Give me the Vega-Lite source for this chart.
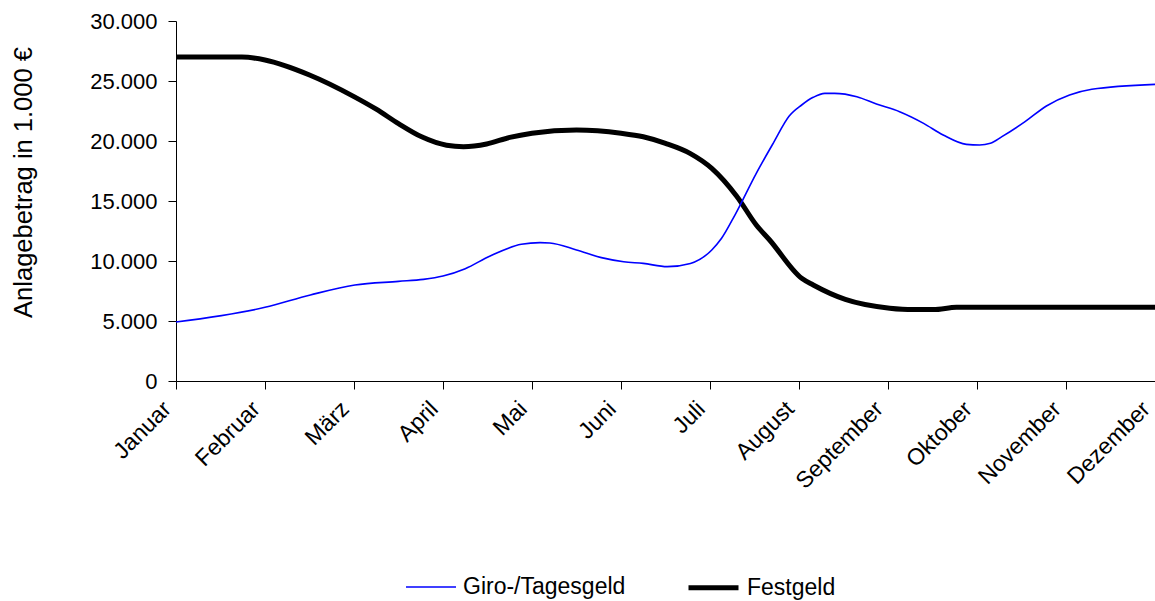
{
  "$schema": "https://vega.github.io/schema/vega-lite/v6.json",
  "width": 979,
  "height": 360,
  "autosize": {"type": "none"},
  "padding": {"left": 176, "top": 21, "right": 0, "bottom": 220},
  "background": "white",
  "config": {
    "view": {"stroke": null},
    "font": "Liberation Sans",
    "locale": {"number": {"decimal": ",", "thousands": ".", "grouping": [3], "currency": ["", " €"]}},
    "axis": {"labelFont": "Liberation Sans", "titleFont": "Liberation Sans", "labelColor": "black", "titleColor": "black", "domainColor": "black", "tickColor": "black", "grid": false}
  },
  "data": {
    "values": [
      {"t": 0, "series": "Festgeld", "v": 27000},
      {"t": 0.5, "series": "Festgeld", "v": 27000},
      {"t": 0.74, "series": "Festgeld", "v": 27000},
      {"t": 1.0, "series": "Festgeld", "v": 26750},
      {"t": 1.5, "series": "Festgeld", "v": 25500},
      {"t": 2.0, "series": "Festgeld", "v": 23700},
      {"t": 2.25, "series": "Festgeld", "v": 22650},
      {"t": 2.5, "series": "Festgeld", "v": 21450},
      {"t": 2.76, "series": "Festgeld", "v": 20350},
      {"t": 3.04, "series": "Festgeld", "v": 19650},
      {"t": 3.23, "series": "Festgeld", "v": 19530},
      {"t": 3.49, "series": "Festgeld", "v": 19750},
      {"t": 3.75, "series": "Festgeld", "v": 20300},
      {"t": 4.0, "series": "Festgeld", "v": 20650},
      {"t": 4.5, "series": "Festgeld", "v": 20920},
      {"t": 5.0, "series": "Festgeld", "v": 20650},
      {"t": 5.25, "series": "Festgeld", "v": 20350},
      {"t": 5.5, "series": "Festgeld", "v": 19800},
      {"t": 5.78, "series": "Festgeld", "v": 18950},
      {"t": 6.02, "series": "Festgeld", "v": 17720},
      {"t": 6.3, "series": "Festgeld", "v": 15400},
      {"t": 6.52, "series": "Festgeld", "v": 13000},
      {"t": 6.67, "series": "Festgeld", "v": 11750},
      {"t": 7.03, "series": "Festgeld", "v": 8560},
      {"t": 7.16, "series": "Festgeld", "v": 8000},
      {"t": 7.52, "series": "Festgeld", "v": 6800},
      {"t": 8.02, "series": "Festgeld", "v": 6070},
      {"t": 8.28, "series": "Festgeld", "v": 5950},
      {"t": 8.51, "series": "Festgeld", "v": 5950},
      {"t": 8.77, "series": "Festgeld", "v": 6140},
      {"t": 9.0, "series": "Festgeld", "v": 6150},
      {"t": 10.0, "series": "Festgeld", "v": 6150},
      {"t": 11.0, "series": "Festgeld", "v": 6150},
      {"t": 0, "series": "Giro-/Tagesgeld", "v": 4920},
      {"t": 1.0, "series": "Giro-/Tagesgeld", "v": 6140},
      {"t": 1.51, "series": "Giro-/Tagesgeld", "v": 7170},
      {"t": 2.01, "series": "Giro-/Tagesgeld", "v": 8000},
      {"t": 2.5, "series": "Giro-/Tagesgeld", "v": 8300},
      {"t": 2.78, "series": "Giro-/Tagesgeld", "v": 8470},
      {"t": 3.0, "series": "Giro-/Tagesgeld", "v": 8750},
      {"t": 3.25, "series": "Giro-/Tagesgeld", "v": 9360},
      {"t": 3.53, "series": "Giro-/Tagesgeld", "v": 10420},
      {"t": 3.88, "series": "Giro-/Tagesgeld", "v": 11390},
      {"t": 4.09, "series": "Giro-/Tagesgeld", "v": 11530},
      {"t": 4.2, "series": "Giro-/Tagesgeld", "v": 11500},
      {"t": 4.5, "series": "Giro-/Tagesgeld", "v": 10920},
      {"t": 4.78, "series": "Giro-/Tagesgeld", "v": 10280},
      {"t": 5.03, "series": "Giro-/Tagesgeld", "v": 9940},
      {"t": 5.25, "series": "Giro-/Tagesgeld", "v": 9800},
      {"t": 5.52, "series": "Giro-/Tagesgeld", "v": 9530},
      {"t": 5.78, "series": "Giro-/Tagesgeld", "v": 9800},
      {"t": 6.02, "series": "Giro-/Tagesgeld", "v": 10920},
      {"t": 6.13, "series": "Giro-/Tagesgeld", "v": 11890},
      {"t": 6.28, "series": "Giro-/Tagesgeld", "v": 13830},
      {"t": 6.52, "series": "Giro-/Tagesgeld", "v": 17310},
      {"t": 6.71, "series": "Giro-/Tagesgeld", "v": 19810},
      {"t": 6.89, "series": "Giro-/Tagesgeld", "v": 22080},
      {"t": 7.03, "series": "Giro-/Tagesgeld", "v": 23000},
      {"t": 7.16, "series": "Giro-/Tagesgeld", "v": 23640},
      {"t": 7.29, "series": "Giro-/Tagesgeld", "v": 23970},
      {"t": 7.4, "series": "Giro-/Tagesgeld", "v": 23970},
      {"t": 7.65, "series": "Giro-/Tagesgeld", "v": 23690},
      {"t": 7.87, "series": "Giro-/Tagesgeld", "v": 23080},
      {"t": 8.13, "series": "Giro-/Tagesgeld", "v": 22440},
      {"t": 8.4, "series": "Giro-/Tagesgeld", "v": 21470},
      {"t": 8.62, "series": "Giro-/Tagesgeld", "v": 20500},
      {"t": 8.88, "series": "Giro-/Tagesgeld", "v": 19720},
      {"t": 9.03, "series": "Giro-/Tagesgeld", "v": 19670},
      {"t": 9.15, "series": "Giro-/Tagesgeld", "v": 19810},
      {"t": 9.28, "series": "Giro-/Tagesgeld", "v": 20360},
      {"t": 9.54, "series": "Giro-/Tagesgeld", "v": 21610},
      {"t": 9.78, "series": "Giro-/Tagesgeld", "v": 22920},
      {"t": 10.04, "series": "Giro-/Tagesgeld", "v": 23830},
      {"t": 10.29, "series": "Giro-/Tagesgeld", "v": 24310},
      {"t": 11.0, "series": "Giro-/Tagesgeld", "v": 24720}
    ]
  },
  "mark": {"type": "line", "interpolate": "monotone", "strokeCap": "butt", "strokeJoin": "round"},
  "encoding": {
    "x": {
      "field": "t",
      "type": "quantitative",
      "scale": {"domain": [0, 11], "nice": false, "zero": false},
      "axis": {
        "title": null,
        "values": [0, 1, 2, 3, 4, 5, 6, 7, 8, 9, 10, 11],
        "labelExpr": "['Januar','Februar','März','April','Mai','Juni','Juli','August','September','Oktober','November','Dezember'][datum.value]",
        "labelAngle": -45,
        "labelAlign": "right",
        "labelBaseline": "middle",
        "labelFontSize": 23,
        "labelPadding": 16,
        "labelOffset": -9,
        "tickSize": 8,
        "labelOverlap": false,
        "labelBound": false,
        "labelFlush": false
      }
    },
    "y": {
      "field": "v",
      "type": "quantitative",
      "scale": {"domain": [0, 30000], "nice": false},
      "axis": {
        "title": "Anlagebetrag in 1.000 €",
        "values": [0, 5000, 10000, 15000, 20000, 25000, 30000],
        "format": ",d",
        "labelFontSize": 22,
        "labelPadding": 11,
        "tickSize": 8,
        "titleFontSize": 25.5,
        "titleFontWeight": "normal",
        "titlePadding": 53,
        "titleY": 161
      }
    },
    "color": {
      "field": "series",
      "type": "nominal",
      "scale": {"domain": ["Giro-/Tagesgeld", "Festgeld"], "range": ["#0000ff", "#000000"]},
      "legend": {
        "title": null,
        "orient": "none",
        "legendX": 229,
        "legendY": 539,
        "direction": "horizontal",
        "symbolType": "stroke",
        "symbolSize": 2500,
        "labelFontSize": 23,
        "labelFont": "Liberation Sans",
        "labelColor": "black",
        "labelOffset": 6,
        "labelLimit": 400,
        "columnPadding": 52
      }
    },
    "strokeWidth": {
      "field": "series",
      "type": "nominal",
      "scale": {"domain": ["Giro-/Tagesgeld", "Festgeld"], "range": [1.6, 5]},
      "legend": {
        "title": null,
        "orient": "none",
        "legendX": 229,
        "legendY": 539,
        "direction": "horizontal",
        "symbolType": "stroke",
        "symbolSize": 2500,
        "labelFontSize": 23,
        "labelFont": "Liberation Sans",
        "labelColor": "black",
        "labelOffset": 6,
        "labelLimit": 400,
        "columnPadding": 52
      }
    }
  }
}
